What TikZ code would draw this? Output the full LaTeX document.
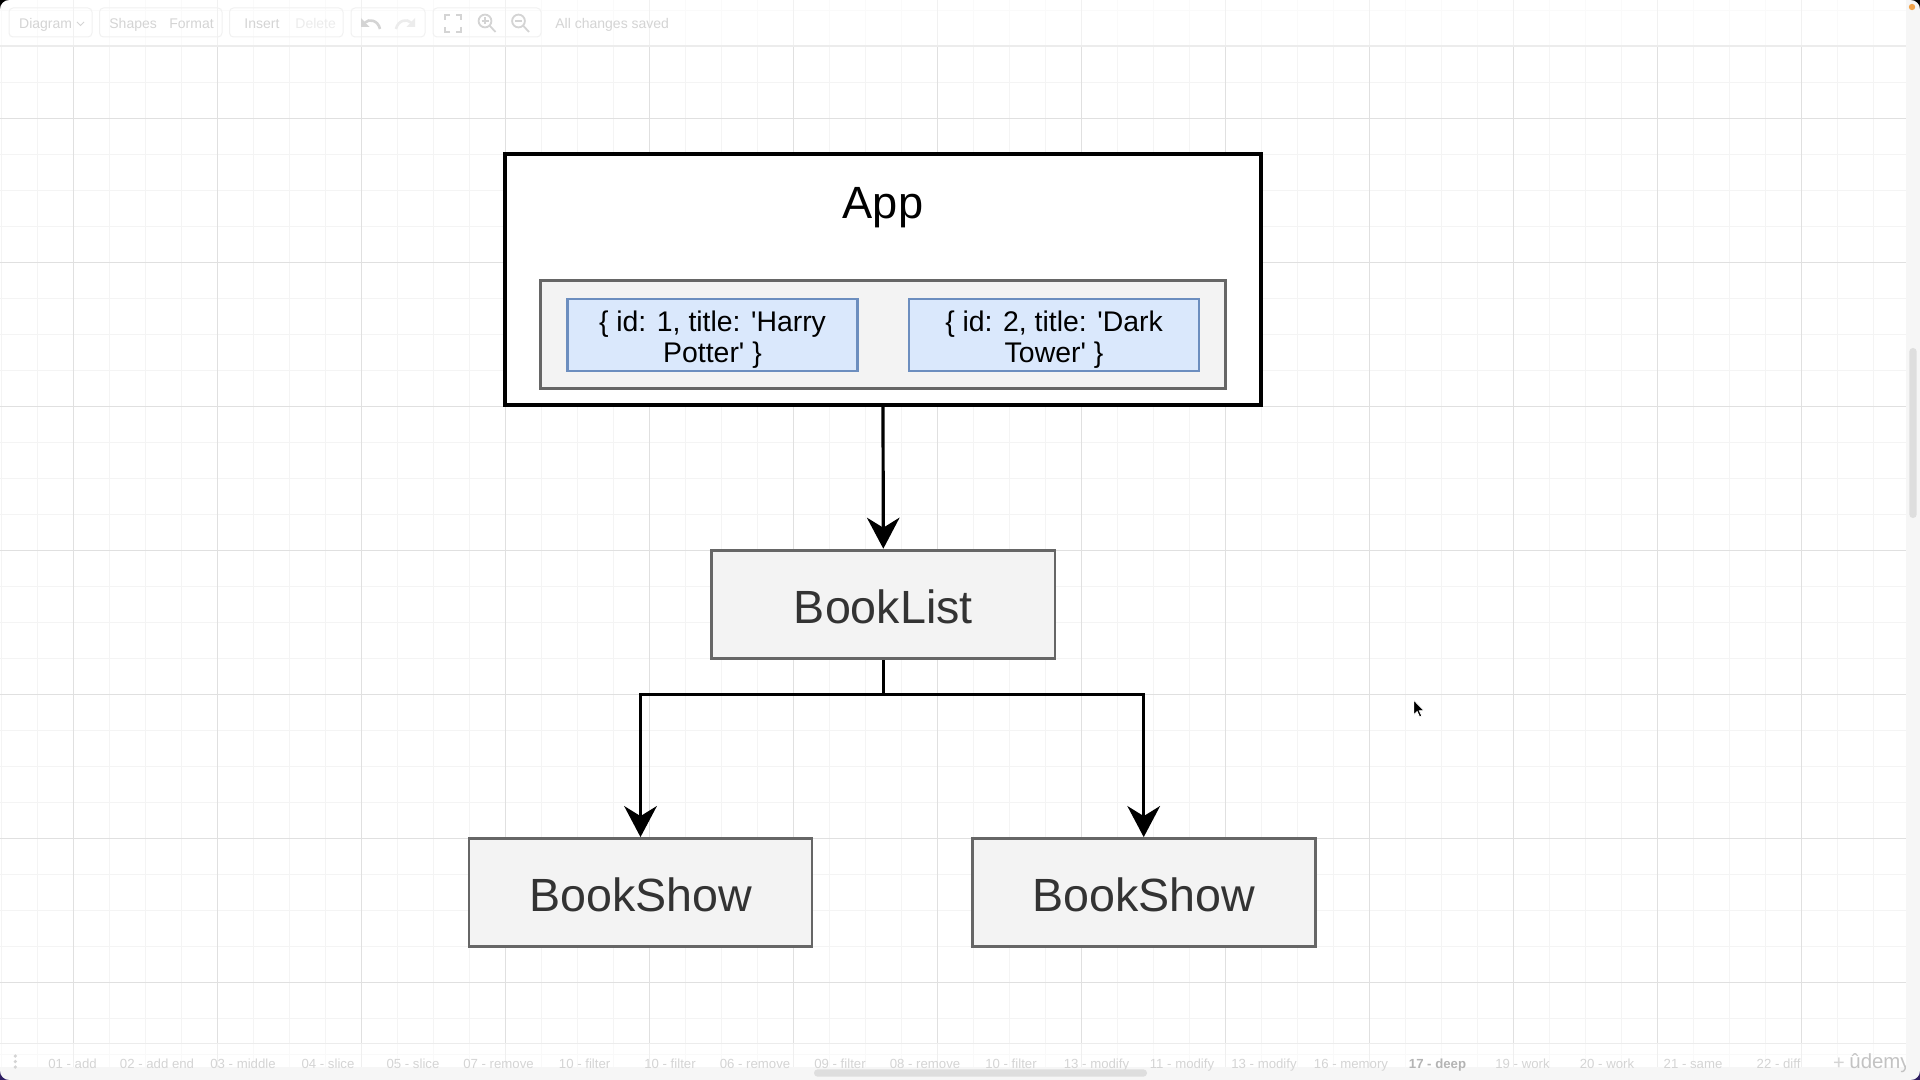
\documentclass[tikz,border=0pt]{standalone}
\usepackage{fontspec}
\setmainfont{Liberation Sans}
\usetikzlibrary{arrows.meta,calc}
\definecolor{gridminor}{HTML}{F4F4F4}
\definecolor{gridmajor}{HTML}{E0E0E0}
\definecolor{grayfill}{HTML}{F3F3F3}
\definecolor{graydraw}{HTML}{666666}
\definecolor{graytext}{HTML}{333333}
\definecolor{bluefill}{HTML}{DAE8FC}
\definecolor{bluedraw}{HTML}{6C8EBF}
\definecolor{uitext}{HTML}{D4D4D4}
\definecolor{uifaint}{HTML}{ECECEC}
\definecolor{uibox}{HTML}{F1F1F1}
\definecolor{uistrip}{HTML}{F6F6F6}
\definecolor{uithumb}{HTML}{DEDEDE}
\definecolor{cornerpurple}{HTML}{2E1E62}
\definecolor{dotorange}{HTML}{F0A24A}
\begin{document}
\begin{tikzpicture}[x=0.5pt,y=-0.5pt,
  appbox/.style={draw=black, line width=1.75pt, fill=white, inner sep=0pt},
  graybox/.style={draw=graydraw, line width=1.4pt, fill=grayfill, text=graytext, inner sep=0pt,
    text height=19.4pt, text depth=0pt, font=\fontsize{23.3}{27}\selectfont},
  innerbox/.style={draw=graydraw, line width=1.25pt, fill=grayfill, inner sep=0pt},
  bluebox/.style={draw=bluedraw, line width=1.2pt, fill=bluefill, inner sep=0pt},
  bluetxt/.style={inner sep=0pt, align=center, font=\fontsize{14.2}{15.3}\selectfont},
  conn/.style={line width=1.6pt, draw=black, -{Stealth[length=15.5pt,width=16.3pt,inset=5pt]}},
  uitxt/.style={text=uitext, inner sep=0pt, font=\fontsize{7}{8}\selectfont},
  tabtxt/.style={text=uitext, inner sep=0pt, font=\fontsize{6.6}{8}\selectfont},
  icon/.style={draw=uitext, line width=0.9pt},
]
\useasboundingbox (0,0) rectangle (1920,1080);
\fill[white] (0,0) rectangle (1920,1080);

% ---------- grid ----------
\foreach \i in {0,...,52} \draw[gridminor, line width=0.7pt] ({1.3+36*\i},0) -- ({1.3+36*\i},1067);
\foreach \j in {0,...,29} \draw[gridminor, line width=0.7pt] (0,{10.3+36*\j}) -- (1906,{10.3+36*\j});
\foreach \i in {0,...,12} \draw[gridmajor, line width=0.6pt] ({73.3+144*\i},0) -- ({73.3+144*\i},1067);
\foreach \j in {0,...,6} \draw[gridmajor, line width=0.6pt] (0,{118.3+144*\j}) -- (1906,{118.3+144*\j});

% ---------- toolbar ----------
\fill[white, opacity=0.55] (0,0) rectangle (1906,46);
\draw[uifaint, line width=0.6pt] (0,46) -- (1906,46);
\foreach \a/\b in {9/92, 99.5/222, 229.5/343, 351/425, 433/541}
  \draw[uibox, line width=0.5pt, rounded corners=2pt] (\a,8) rectangle (\b,37);
\node[uitxt, anchor=base west] (tdiagram) at (18.8,28.3) {Diagram};
\draw[uitext, line width=0.5pt] (77,22) -- (80.5,25.5) -- (84,22);
\node[uitxt, anchor=base west] (tshapes) at (109,28.3) {Shapes};
\node[uitxt, anchor=base west] (tformat) at (169,28.3) {Format};
\node[uitxt, anchor=base west] (tinsert) at (244,28.3) {Insert};
\node[uitxt, anchor=base west, text=uifaint] (tdelete) at (295,28.3) {Delete};
\node[uitxt, anchor=base west] (tsaved) at (555,28.3) {All changes saved};
% undo / redo
\draw[uitext, line width=1.3pt] (380,29) .. controls (378,20) and (369,18.5) .. (365,22.5);
\fill[uitext] (361,18) -- (361,27) -- (369.5,27) -- cycle;
\draw[uifaint, line width=1.3pt] (396,29) .. controls (398,20) and (407,18.5) .. (411,22.5);
\fill[uifaint] (415,18) -- (415,27) -- (406.5,27) -- cycle;
% fullscreen
\draw[icon] (445,20) -- (445,15) -- (450,15);
\draw[icon] (456,15) -- (461,15) -- (461,20);
\draw[icon] (461,27) -- (461,32) -- (456,32);
\draw[icon] (450,32) -- (445,32) -- (445,27);
% zoom in / out
\draw[icon] (485,21) circle[radius=3.2pt];
\draw[icon] (489.8,25.8) -- (495.5,32);
\draw[uitext, line width=0.6pt] (481.5,21) -- (488.5,21) (485,17.5) -- (485,24.5);
\draw[icon] (518.5,21) circle[radius=3.2pt];
\draw[icon] (523.3,25.8) -- (529,32);
\draw[uitext, line width=0.6pt] (515,21) -- (522,21);

% ---------- bottom tab bar ----------
\fill[white, opacity=0.5] (0,1043) rectangle (1906,1067);
\draw[uifaint, line width=0.5pt] (0,1043) -- (1906,1043);
\fill[uistrip] (0,1067) rectangle (1920,1080);
\foreach \yy in {1056,1061.5,1067} \fill[uitext] (15.3,\yy) circle[radius=0.9pt];
\foreach \x/\t [count=\k] in {72.5/01 - add, 157/02 - add end, 243/03 - middle, 328/04 - slice,
  413/05 - slice, 498.5/07 - remove, 584.6/10 - filter, 670/10 - filter, 755/06 - remove,
  840/09 - filter, 925/08 - remove, 1011/10 - filter, 1096.5/13 - modify, 1182/11 - modify,
  1264/13 - modify, 1351/16 - memory, 1522.5/19 - work, 1607/20 - work, 1693/21 - same,
  1778.6/22 - diff}
  \node[tabtxt, anchor=base] (tab\k) at (\x,1068) {\t};
\node[tabtxt, anchor=base, text=uitext!85!black, font=\fontsize{6.6}{8}\selectfont\bfseries] (tabdeep) at (1437.5,1068) {17 - deep};
\node[text=uitext, inner sep=0pt, anchor=base, font=\fontsize{10}{11}\selectfont] (tplus) at (1839,1069) {+};
\node[text=uitext!92!black, inner sep=0pt, anchor=base west, font=\fontsize{10.2}{11}\selectfont] (udemy) at (1849,1068) {ûdemy};

% ---------- right strip and scrollbars ----------
\fill[uistrip] (1906,0) rectangle (1920,1080);
\fill[uithumb, rounded corners=1.8pt] (1909.3,348) rectangle (1916.7,518);
\fill[uithumb, rounded corners=1.8pt] (814,1069.3) rectangle (1147,1076.7);
\fill[dotorange] (1912,7) circle[radius=1.6pt];

% ---------- screen corners ----------
\fill[black] (0,0) -- (9,0) .. controls (4,0) and (0,4) .. (0,9) -- cycle;
\fill[black] (1920,0) -- (1911,0) .. controls (1916,0) and (1920,4) .. (1920,9) -- cycle;
\fill[cornerpurple] (0,1080) -- (0,1071) .. controls (0,1076) and (4,1080) .. (9,1080) -- cycle;
\fill[cornerpurple] (1920,1080) -- (1920,1071) .. controls (1920,1076) and (1916,1080) .. (1911,1080) -- cycle;

% ---------- diagram ----------
\node[appbox, minimum width=378pt, minimum height=125.6pt] (app) at (883,279.6) {};
\node[inner sep=0pt, anchor=base, font=\fontsize{22.6}{26}\selectfont] (apptitle) at (883,219) {App};
\node[innerbox, minimum width=342.5pt, minimum height=54pt] (books) at (883,334.3) {};
\node[bluebox, minimum width=145pt, minimum height=36pt] (b1) at (712.5,335) {};
\node[bluetxt] (b1t) at ($(b1.center)+(0,4.5)$)
  {\{ id: 1, title: \textquotesingle Harry\\Potter\textquotesingle\ \}};
\node[bluebox, minimum width=145pt, minimum height=36pt] (b2) at (1054,335) {};
\node[bluetxt] (b2t) at ($(b2.center)+(0,4.5)$)
  {\{ id: 2, title: \textquotesingle Dark\\Tower\textquotesingle\ \}};

\node[graybox, minimum width=171.7pt, minimum height=54.3pt] (booklist) at (883.3,604.4) {BookList};
\node[graybox, minimum width=171.5pt, minimum height=54pt] (bs1) at (640.5,892.5) {BookShow};
\node[graybox, minimum width=171.5pt, minimum height=54pt] (bs2) at (1143.7,892.5) {BookShow};

\coordinate (split) at (883.3,694.3);
\draw[conn] (app.south) -- (booklist.north);
\draw[conn] (booklist.south) -- (split) -| (bs1.north);
\draw[conn] (booklist.south) -- (split) -| (bs2.north);

% ---------- mouse cursor ----------
\begin{scope}[shift={(1413.6,700)}]
  \filldraw[fill=black, draw=white, line width=0.4pt] (0,0) -- (0,15) -- (3.5,11.5) -- (6,17)
    -- (8.2,16.1) -- (5.7,10.7) -- (10.5,10.7) -- cycle;
\end{scope}
\end{tikzpicture}
\end{document}
